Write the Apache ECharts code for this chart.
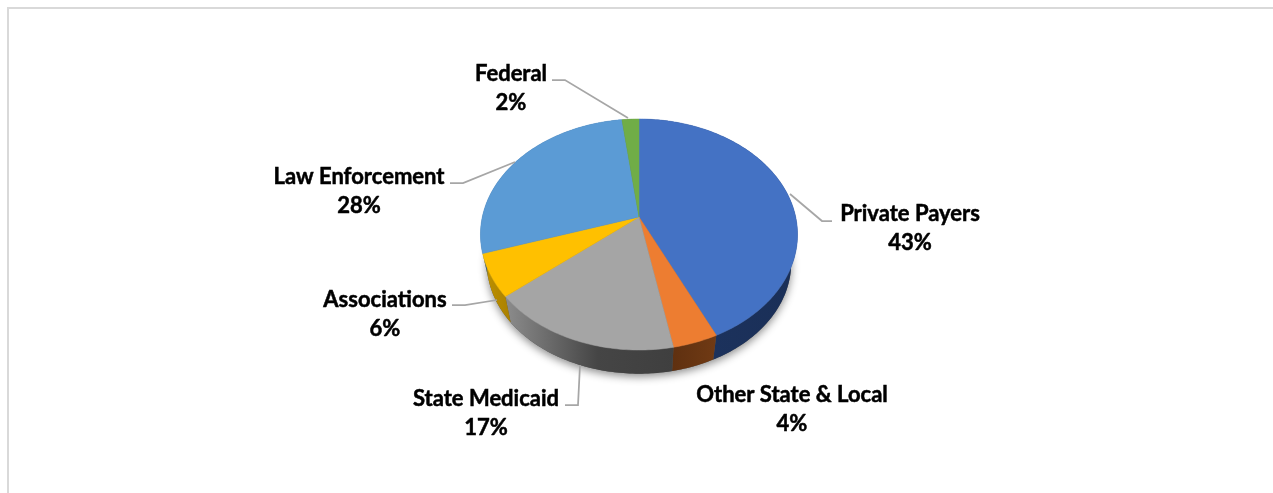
<!DOCTYPE html>
<html>
<head>
<meta charset="utf-8">
<style>html,body{margin:0;padding:0;background:#fff}#c{width:1273px;height:493px}</style>
<script src="https://cdn.jsdelivr.net/npm/echarts@6/dist/echarts.min.js"></script>
</head>
<body>
<div id="c"></div>
<script>
const categories = ['Private Payers','Other State & Local','State Medicaid','Associations','Law Enforcement','Federal'];
const shares = [43,4,17,6,28,2];

const topColors = ['#4472c4','#ed7d31','#a5a5a5','#ffc000','#5b9bd5','#70ad47'];
const sideColors = [
  [[0,'#1d3461'],[1,'#1a2f57']],
  [[0,'#5f3010'],[1,'#703a14']],
  [[0,'#8c8c8c'],[0.55,'#454545'],[1,'#3f3f3f']],
  [[0,'#c09200'],[1,'#a98000']],
  [[0,'#37618a'],[1,'#37618a']],
  [[0,'#436a2b'],[1,'#436a2b']]
];
const FONT = 'Lato, "Open Sans", sans-serif';
const labelLayout = [
  {x:910,y:228,line:[[790,194],[822,221],[832,221]]},
  {x:792,y:409,line:null},
  {x:486,y:413,line:[[580,365],[578,405],[565,405]]},
  {x:385,y:314,line:[[497,300],[465,305],[452,305]]},
  {x:359,y:191,line:[[515,162],[463,183],[450,183]]},
  {x:511,y:88,line:[[628,118],[565,80],[552,80]]}
];
// projective view of the tilted disc
const view = {cx:639,cy:217,q:156.7,p:112.85,k:0.1515,baseScale:0.96,baseDrop:29};
const total = shares.reduce((a,b)=>a+b,0);

function project(theta, base){
  const X = Math.sin(theta), Y = -Math.cos(theta), d = 1 - view.k*Y;
  const s = base ? view.baseScale : 1;
  return [view.cx + s*view.q*X/d, view.cy + s*view.p*Y/d + (base ? view.baseDrop : 0)];
}
function arc(a0,a1,base){
  const n = Math.max(2,Math.ceil(Math.abs(a1-a0)/(Math.PI/180))), pts=[];
  for(let i=0;i<=n;i++) pts.push(project(a0+(a1-a0)*i/n,base));
  return pts;
}
function sliceAngles(idx){
  let before=0; for(let i=0;i<idx;i++) before+=shares[i];
  return [before/total*2*Math.PI,(before+shares[idx])/total*2*Math.PI];
}
const gradient = stops=>new echarts.graphic.LinearGradient(0,0,1,0,stops.map(s=>({offset:s[0],color:s[1]})));

function renderSide(params,api){
  const i = params.dataIndex, [a0,a1] = sliceAngles(i);
  const top = arc(a0,a1,false), bot = arc(a0,a1,true).reverse();
  const children = [];
  if(i===0){
    children.push({type:'polygon',shape:{points:arc(0,2*Math.PI,true)},
      style:{fill:'#555',shadowBlur:9,shadowColor:'rgba(0,0,0,0.45)',shadowOffsetY:3}});
  }
  children.push({type:'polygon',shape:{points:top.concat(bot)},
    style:{fill:gradient(sideColors[i]),stroke:null}});
  return {type:'group',children};
}
function renderTop(params,api){
  const i = params.dataIndex, [a0,a1] = sliceAngles(i);
  return {type:'polygon',shape:{points:[[view.cx,view.cy]].concat(arc(a0,a1,false))},
    style:{fill:topColors[i],stroke:topColors[i],lineWidth:0.5}};
}
function renderLabel(params,api){
  const i = params.dataIndex, l = labelLayout[i], children=[];
  if(l.line) children.push({type:'polyline',shape:{points:l.line},
    style:{fill:null,stroke:'#a6a6a6',lineWidth:1.75}});
  children.push({type:'text',style:{x:l.x,y:l.y,text:categories[i]+'\n'+api.value(0)+'%',
    align:'center',verticalAlign:'middle',font:'bold 22px '+FONT,lineHeight:29,fill:'#000',
    stroke:'#000',lineWidth:0.5}});
  return {type:'group',children};
}
const seriesData = categories.map((n,i)=>({name:n,value:shares[i]}));
const chart = echarts.init(document.getElementById('c'),null,{renderer:'canvas'});
chart.setOption({
  animation:false,
  backgroundColor:'#fff',
  graphic:[{type:'polyline',silent:true,z:0,shape:{points:[[8,493],[8,8],[1273,8]]},
    style:{fill:null,stroke:'#d9d9d9',lineWidth:2}}],
  series:[
    {type:'custom',coordinateSystem:'none',z:1,silent:true,data:seriesData,renderItem:renderSide},
    {type:'custom',coordinateSystem:'none',z:2,silent:true,data:seriesData,renderItem:renderTop},
    {type:'custom',coordinateSystem:'none',z:3,silent:true,data:seriesData,renderItem:renderLabel}
  ]
});
</script>
</body>
</html>
